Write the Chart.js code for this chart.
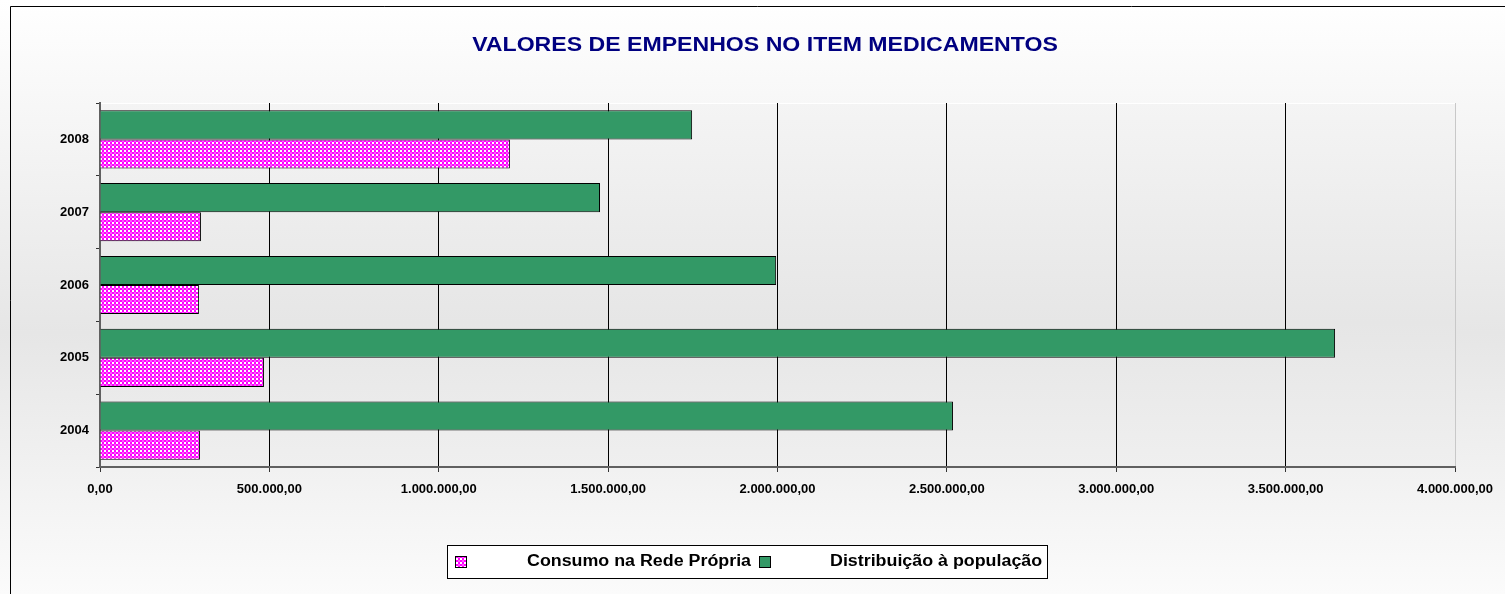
<!DOCTYPE html>
<html>
<head>
<meta charset="utf-8">
<script src="https://cdn.jsdelivr.net/npm/chart.js@4"></script>
<style>
  html, body { margin: 0; padding: 0; background: #fff; }
  #wrap { width: 1505px; height: 594px; position: relative; }
</style>
</head>
<body>
<div id="wrap"><canvas id="c" width="1505" height="594"></canvas></div>
<script>
const chartTitle = 'VALORES DE EMPENHOS NO ITEM MEDICAMENTOS';
const years = ['2008', '2007', '2006', '2005', '2004'];
const seriesNames = ['Consumo na Rede Própria', 'Distribuição à população'];
const consumo = [1210000, 298000, 292000, 484000, 295000];
const distribuicao = [1748000, 1476000, 1996000, 3646000, 2518000];
const xTicks = [0, 500000, 1000000, 1500000, 2000000, 2500000, 3000000, 3500000, 4000000];

function fmtBR(v) {
  const s = Math.round(v).toString().replace(/\B(?=(\d{3})+(?!\d))/g, '.');
  return s + ',00';
}

function makePattern() {
  const p = document.createElement('canvas');
  p.width = 4; p.height = 4;
  const g = p.getContext('2d');
  g.fillStyle = '#ffffff';
  g.fillRect(0, 0, 4, 4);
  g.fillStyle = '#ff00ff';
  g.fillRect(0, 0, 2, 2);
  g.fillRect(2, 2, 2, 2);
  g.fillStyle = '#ff55ff';
  g.fillRect(2, 0, 2, 2);
  return document.getElementById('c').getContext('2d').createPattern(p, 'repeat');
}
const pinkPattern = makePattern();
const green = '#339966';

const bgPlugin = {
  id: 'bg',
  beforeDraw(chart) {
    const ctx = chart.ctx, W = chart.width, H = chart.height;
    const ca = chart.chartArea;
    ctx.save();
    let g = ctx.createLinearGradient(0, 0, 0, H);
    g.addColorStop(0, '#ffffff');
    g.addColorStop(0.56, '#e6e6e6');
    g.addColorStop(1, '#fbfbfb');
    ctx.fillStyle = g;
    ctx.fillRect(0, 0, W, H);
    g = ctx.createLinearGradient(0, ca.top, 0, ca.bottom);
    g.addColorStop(0, '#f4f4f4');
    g.addColorStop(0.6, '#e6e6e6');
    g.addColorStop(1, '#efefef');
    ctx.fillStyle = g;
    ctx.fillRect(ca.left, ca.top, ca.right - ca.left, ca.bottom - ca.top);
    ctx.strokeStyle = '#ffffff';
    ctx.lineWidth = 1;
    ctx.beginPath();
    ctx.moveTo(ca.left, ca.top + 0.5);
    ctx.lineTo(ca.right, ca.top + 0.5);
    ctx.stroke();
    // outer frame
    ctx.strokeStyle = '#000000';
    ctx.beginPath();
    ctx.moveTo(10.5, H);
    ctx.lineTo(10.5, 6.5);
    ctx.lineTo(W, 6.5);
    ctx.stroke();
    ctx.restore();
  },
  afterDraw(chart) {
    const ctx = chart.ctx;
    ctx.save();
    // title
    ctx.fillStyle = '#000080';
    ctx.font = 'bold 20px "Liberation Sans", Arial, sans-serif';
    ctx.textBaseline = 'middle';
    ctx.textAlign = 'center';
    ctx.translate(765, 45);
    ctx.scale(1.155, 1);
    ctx.fillText(chartTitle, 0, 0);
    ctx.restore();

    // legend
    ctx.save();
    ctx.fillStyle = '#ffffff';
    ctx.fillRect(447, 545, 600, 33);
    ctx.strokeStyle = '#000000';
    ctx.lineWidth = 1;
    ctx.strokeRect(447.5, 545.5, 600, 33);
    const items = [
      { fill: pinkPattern, box: 455, text: 527, label: seriesNames[0] },
      { fill: green, box: 759, text: 830, label: seriesNames[1] }
    ];
    ctx.font = 'bold 16px "Liberation Sans", Arial, sans-serif';
    ctx.textBaseline = 'middle';
    ctx.textAlign = 'left';
    items.forEach(it => {
      ctx.fillStyle = it.fill;
      ctx.fillRect(it.box, 556, 11, 11);
      ctx.strokeStyle = '#000';
      ctx.strokeRect(it.box + 0.5, 556.5, 11, 11);
      ctx.fillStyle = '#000';
      ctx.save();
      ctx.translate(it.text, 562);
      ctx.scale(1.115, 1);
      ctx.fillText(it.label, 0, 0);
      ctx.restore();
    });
    ctx.restore();
  }
};

new Chart(document.getElementById('c'), {
  type: 'bar',
  data: {
    labels: years,
    datasets: [
      {
        label: seriesNames[1],
        data: distribuicao,
        backgroundColor: green,
        borderColor: '#000000',
        borderWidth: 1,
        categoryPercentage: 0.8,
        barPercentage: 1.0
      },
      {
        label: seriesNames[0],
        data: consumo,
        backgroundColor: pinkPattern,
        borderColor: '#000000',
        borderWidth: 1,
        categoryPercentage: 0.8,
        barPercentage: 1.0
      }
    ]
  },
  options: {
    indexAxis: 'y',
    responsive: false,
    animation: false,
    layout: { padding: { left: 0, right: 50, top: 103, bottom: 87 } },
    plugins: {
      legend: { display: false },
      title: { display: false },
      tooltip: { enabled: false }
    },
    scales: {
      x: {
        min: 0,
        max: 4000000,
        afterBuildTicks(scale) { scale.ticks = xTicks.map(v => ({ value: v })); },
        afterFit(scale) { scale.height = 40; },
        ticks: {
          color: '#000',
          font: { family: '"Liberation Sans", Arial, sans-serif', size: 13, weight: 'bold' },
          padding: 10,
          maxRotation: 0,
          callback: (v) => fmtBR(v)
        },
        grid: {
          color: (c) => (c.tick && c.tick.value === 4000000) ? '#c8c8c8' : '#000000',
          lineWidth: 1,
          tickColor: '#333333',
          tickLength: 5,
          drawTicks: true
        },
        border: { color: '#606060', width: 2 }
      },
      y: {
        afterFit(scale) { scale.width = 100; },
        ticks: {
          color: '#000',
          font: { family: '"Liberation Sans", Arial, sans-serif', size: 13, weight: 'bold' },
          padding: 7
        },
        grid: {
          drawOnChartArea: false,
          drawTicks: true,
          tickLength: 4,
          tickColor: '#333333',
          offset: true
        },
        border: { color: '#606060', width: 2 }
      }
    }
  },
  plugins: [bgPlugin]
});
</script>
</body>
</html>
